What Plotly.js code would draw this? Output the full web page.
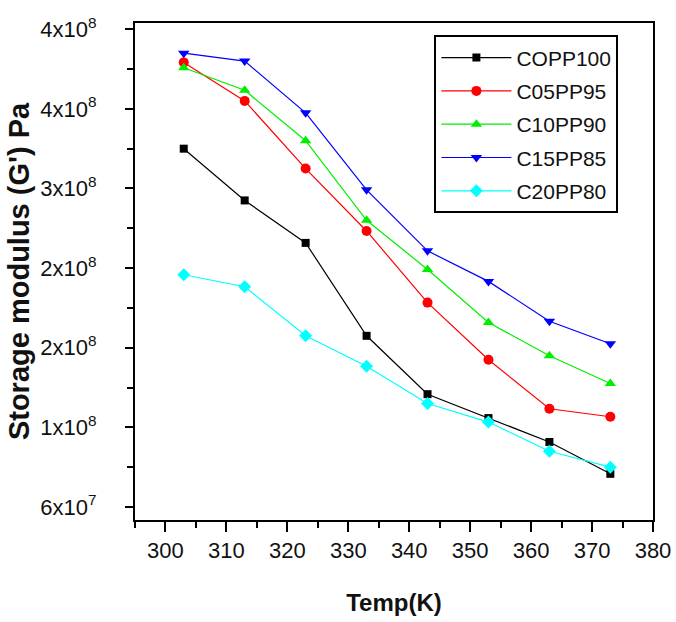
<!DOCTYPE html>
<html>
<head>
<meta charset="utf-8">
<script src="https://cdn.plot.ly/plotly-3.0.1.min.js"></script>
<style>html,body{margin:0;padding:0;background:#fff;}#chart{width:676px;height:622px;}</style>
</head>
<body>
<div id="chart"></div>
<script>
// Temperature (K)
const temps = [303, 313, 323, 333, 343, 353, 363, 373];
// Storage modulus G' (Pa)
const copp100 = [3.30e8, 2.91e8, 2.59e8, 1.89e8, 1.45e8, 1.27e8, 1.09e8, 0.85e8];
const c05pp95 = [3.95e8, 3.66e8, 3.15e8, 2.68e8, 2.14e8, 1.71e8, 1.34e8, 1.28e8];
const c10pp90 = [3.91e8, 3.74e8, 3.36e8, 2.76e8, 2.39e8, 1.99e8, 1.74e8, 1.53e8];
const c15pp85 = [4.02e8, 3.96e8, 3.57e8, 2.99e8, 2.53e8, 2.30e8, 2.00e8, 1.83e8];
const c20pp80 = [2.35e8, 2.26e8, 1.89e8, 1.66e8, 1.38e8, 1.24e8, 1.02e8, 0.90e8];
const seriesNames = ["COPP100", "C05PP95", "C10PP90", "C15PP85", "C20PP80"];
// y tick labels
const yTickVals = [0.6e8, 1.2e8, 1.8e8, 2.4e8, 3.0e8, 3.6e8, 4.2e8];
const yTickText = ["6x10<sup>7</sup>", "1x10<sup>8</sup>", "2x10<sup>8</sup>", "2x10<sup>8</sup>", "3x10<sup>8</sup>", "4x10<sup>8</sup>", "4x10<sup>8</sup>"];
const xTickVals = [300, 310, 320, 330, 340, 350, 360, 370, 380];

const values = [copp100, c05pp95, c10pp90, c15pp85, c20pp80];
const colors = ["#000000", "#ff0000", "#00ee00", "#0000ff", "#00ffff"];
const symbols = ["square", "circle", "triangle-up", "triangle-down", "diamond"];
const sizes = [8, 10, 10, 10, 10];

const traces = values.map((v, i) => ({
  x: temps, y: v, name: seriesNames[i], type: "scatter", mode: "lines+markers",
  legendgroup: "g" + i,
  line: {color: colors[i], width: 1.2},
  marker: {color: colors[i], symbol: symbols[i], size: sizes[i]}
}));

const font = "Liberation Sans, Arial, sans-serif";
const layout = {
  width: 676, height: 622,
  margin: {l: 135, r: 23, t: 23, b: 102},
  paper_bgcolor: "#fff", plot_bgcolor: "#fff",
  showlegend: true,
  legend: {
    x: 0.578, y: 0.975, xanchor: "left", yanchor: "top",
    bordercolor: "#000", borderwidth: 2, bgcolor: "#fff",
    font: {family: font, size: 21, color: "#111"},
    tracegroupgap: 3, itemwidth: 70
  },
  xaxis: {
    range: [295, 380], tickmode: "array", tickvals: xTickVals,
    ticks: "outside", ticklen: 10, tickwidth: 2, tickcolor: "#000",
    minor: {tickmode: "linear", tick0: 305, dtick: 10, ticks: "outside", ticklen: 6, tickwidth: 2, tickcolor: "#000"},
    showline: true, linecolor: "#000", linewidth: 2, mirror: true,
    showgrid: false, zeroline: false,
    tickfont: {family: font, size: 22, color: "#111"},
    title: {text: "<b>Temp(K)</b>", font: {family: font, size: 24, color: "#111"}, standoff: 32}
  },
  yaxis: {
    range: [0.502e8, 4.247e8], tickmode: "array", tickvals: yTickVals, ticktext: yTickText,
    ticks: "outside", ticklen: 8, tickwidth: 2, tickcolor: "#000",
    minor: {tickmode: "linear", tick0: 0.9e8, dtick: 0.6e8, ticks: "outside", ticklen: 6, tickwidth: 2, tickcolor: "#000"},
    showline: true, linecolor: "#000", linewidth: 2, mirror: true,
    showgrid: false, zeroline: false,
    ticklabelstandoff: 24,
    tickfont: {family: font, size: 22, color: "#111"},
    title: {text: "<b>Storage modulus (G') Pa</b>", font: {family: font, size: 29, color: "#111"}, standoff: 2}
  }
};
Plotly.newPlot("chart", traces, layout, {displayModeBar: false, staticPlot: true});
</script>
</body>
</html>
